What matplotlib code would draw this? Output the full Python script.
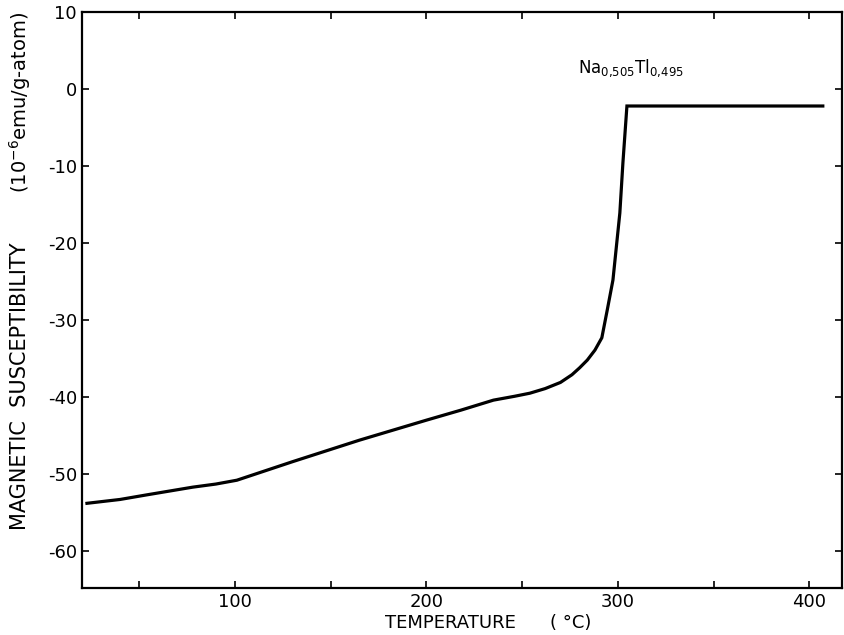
from matplotlib import pyplot as plt
from matplotlib.ticker import MultipleLocator

# susceptibility vs temperature for Na(0.505)Tl(0.495)
temp = [22.7, 40, 54, 66, 78, 90, 101, 130, 165, 200, 218, 235, 246, 254, 262,
        270, 276, 280, 284, 288, 291.6, 294.5, 297.4, 301.0, 302.6, 304.7, 360, 407]
chi = [-53.8, -53.3, -52.7, -52.2, -51.7, -51.3, -50.8, -48.4, -45.6, -43.0, -41.7,
       -40.4, -39.9, -39.5, -38.9, -38.1, -37.1, -36.2, -35.2, -33.9, -32.3, -28.6,
       -24.8, -16.1, -9.6, -2.2, -2.2, -2.2]

fig = plt.figure(figsize=(8.45, 6.35), dpi=100)
ax = fig.add_axes([0.097, 0.074, 0.8994, 0.907])

ax.plot(temp, chi, color='black', lw=2.3, solid_joinstyle='miter')

ax.set_xlim(20.1, 417.0)
ax.set_ylim(-64.8, 10.0)
ax.xaxis.set_major_locator(MultipleLocator(100))
ax.xaxis.set_minor_locator(MultipleLocator(50))
ax.set_yticks(range(-60, 11, 10))
ax.set_yticklabels(['-60', '-50', '-40', '-30', '-20', '-10', '0', '10'])
ax.tick_params(which='both', direction='in', top=True, right=True,
               labelsize=13, width=1.2, length=5)
for s in ax.spines.values():
    s.set_linewidth(1.6)

ax.text(279, 2.1, r'Na$_{0{,}505}$Tl$_{0{,}495}$', fontsize=12, va='baseline')

# axis titles
fig.text(0.533, 0.019, 'TEMPERATURE', ha='center', va='center', fontsize=13)
fig.text(0.675, 0.019, '( °C)', ha='center', va='center', fontsize=13)
fig.text(0.024, 0.165, 'MAGNETIC  SUSCEPTIBILITY', rotation=90,
         ha='center', va='bottom', fontsize=15)
fig.text(0.024, 0.696, r'(10$^{-6}$emu/g-atom)', rotation=90,
         ha='center', va='bottom', fontsize=14)

plt.savefig('out.png', dpi=100)
